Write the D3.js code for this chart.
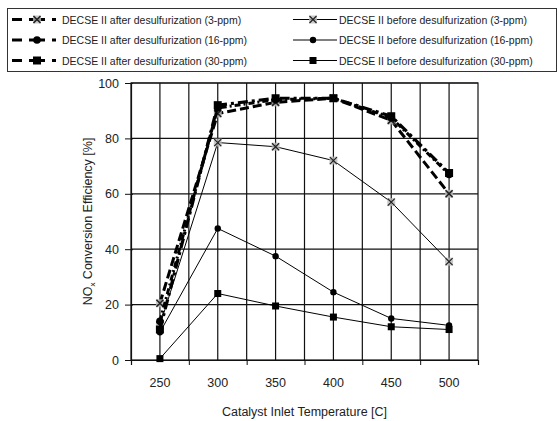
<!DOCTYPE html>
<html>
<head>
<meta charset="utf-8">
<script src="https://cdn.jsdelivr.net/npm/d3@7"></script>
<style>
  body { margin: 0; background: #fff; }
  text { font-family: "Liberation Sans", Arial, sans-serif; fill: #222; }
</style>
</head>
<body>
<div id="chart"></div>
<script>
// temperatures (C)
const temps = [250, 300, 350, 400, 450, 500];

// NOx conversion efficiency [%]
const before3 = [12.5, 78.5, 77, 72, 57, 35.5];
const before16 = [10, 47.5, 37.5, 24.5, 15, 12.5];
const before30 = [0.5, 24, 19.5, 15.5, 12, 11];
const after3 = [20.5, 89, 93, 94.5, 86.5, 60];
const after16 = [14, 91, 94, 94.5, 87.5, 67];
const after30 = [11, 92, 94.5, 94.5, 88, 67.5];

const seriesNames = [
  "DECSE II after desulfurization (3-ppm)",
  "DECSE II after desulfurization (16-ppm)",
  "DECSE II after desulfurization (30-ppm)",
  "DECSE II before desulfurization (3-ppm)",
  "DECSE II before desulfurization (16-ppm)",
  "DECSE II before desulfurization (30-ppm)"
];

const yTicks = [0, 20, 40, 60, 80, 100];

const series = [
  { name: seriesNames[0], values: after3, marker: "x", width: 3, dash: "9,4" },
  { name: seriesNames[1], values: after16, marker: "circle", width: 3, dash: "6,3,2,3" },
  { name: seriesNames[2], values: after30, marker: "square", width: 3.2, dash: "10,4,3,4" },
  { name: seriesNames[3], values: before3, marker: "x", width: 1, dash: null },
  { name: seriesNames[4], values: before16, marker: "circle", width: 1, dash: null },
  { name: seriesNames[5], values: before30, marker: "square", width: 1, dash: null }
];

const W = 559, H = 421;
const margin = { top: 83, right: 81, bottom: 61, left: 131 };
const width = W - margin.left - margin.right;
const height = H - margin.top - margin.bottom;

const svg = d3.select("#chart").append("svg")
  .attr("width", W)
  .attr("height", H);

// Legend box
const legend = svg.append("g");
legend.append("rect")
  .attr("x", 7.5).attr("y", 8.5)
  .attr("width", 549).attr("height", 63)
  .attr("fill", "#fff").attr("stroke", "#333").attr("stroke-width", 1);

const g = svg.append("g")
  .attr("transform", "translate(" + margin.left + "," + margin.top + ")");

const x = d3.scaleLinear().domain([225, 525]).range([0, width]);
const y = d3.scaleLinear().domain([0, 100]).range([height, 0]);

// gridlines
g.append("g")
  .selectAll("line")
  .data(d3.range(250, 525, 25))
  .enter().append("line")
  .attr("x1", d => x(d)).attr("x2", d => x(d))
  .attr("y1", 0).attr("y2", height)
  .attr("stroke", "#111").attr("stroke-width", 1.2);

g.append("g")
  .selectAll("line")
  .data(yTicks.slice(1))
  .enter().append("line")
  .attr("x1", 0).attr("x2", width)
  .attr("y1", d => y(d)).attr("y2", d => y(d))
  .attr("stroke", "#111").attr("stroke-width", 1.2);

// frame
g.append("rect")
  .attr("x", 0).attr("y", 0).attr("width", width).attr("height", height)
  .attr("fill", "none").attr("stroke", "#111").attr("stroke-width", 1.2);

// y axis
const yAxis = g.append("g")
  .call(d3.axisLeft(y).tickValues(yTicks).tickSize(6).tickPadding(6));
yAxis.select(".domain").attr("stroke", "#111").attr("stroke-width", 1.2);
yAxis.selectAll(".tick line").attr("stroke", "#111").attr("x2", -6).attr("x1", 2);
yAxis.selectAll("text").style("font-size", "12.5px").attr("fill", "#333");

// x axis: ticks between categories, labels at temperatures
const xAxis = g.append("g")
  .attr("transform", "translate(0," + height + ")")
  .call(d3.axisBottom(x).tickValues(d3.range(225, 526, 50)).tickSize(5).tickFormat(""));
xAxis.select(".domain").attr("stroke", "#111").attr("stroke-width", 1.2);
xAxis.selectAll(".tick line").attr("stroke", "#111");

g.append("g")
  .selectAll("text")
  .data(temps)
  .enter().append("text")
  .attr("x", d => x(d))
  .attr("y", height + 27)
  .attr("text-anchor", "middle")
  .style("font-size", "12.5px")
  .attr("fill", "#333")
  .text(d => d);

// axis titles
g.append("text")
  .attr("x", width / 2)
  .attr("y", height + 56)
  .attr("text-anchor", "middle")
  .style("font-size", "12.5px")
  .text("Catalyst Inlet Temperature [C]");

const yTitle = g.append("text")
  .attr("transform", "translate(-39," + (height / 2) + ") rotate(-90)")
  .attr("text-anchor", "middle")
  .style("font-size", "12.5px");
yTitle.append("tspan").text("NO");
yTitle.append("tspan").attr("dy", 3).style("font-size", "8px").text("x");
yTitle.append("tspan").attr("dy", -3).text(" Conversion Efficiency [%]");

// marker drawing
function drawMarker(sel, type, heavy) {
  if (type === "x") {
    sel.append("rect")
      .attr("x", -4).attr("y", -4).attr("width", 8).attr("height", 8)
      .attr("fill", "#bbb").attr("opacity", 0.8);
    sel.append("path")
      .attr("d", "M-3.5,-3.5L3.5,3.5M-3.5,3.5L3.5,-3.5")
      .attr("stroke", "#222").attr("stroke-width", heavy ? 1.6 : 1.2);
  } else if (type === "circle") {
    sel.append("circle").attr("r", heavy ? 3.8 : 3.2).attr("fill", "#000");
  } else {
    const s = heavy ? 8 : 7;
    sel.append("rect")
      .attr("x", -s / 2).attr("y", -s / 2).attr("width", s).attr("height", s)
      .attr("fill", "#000");
  }
}

const line = d3.line()
  .x((d, i) => x(temps[i]))
  .y(d => y(d));

// draw before series first, then heavy dashed ones on top
[3, 4, 5, 0, 1, 2].forEach(k => {
  const s = series[k];
  g.append("path")
    .datum(s.values)
    .attr("d", line)
    .attr("fill", "none")
    .attr("stroke", "#000")
    .attr("stroke-width", s.width)
    .attr("stroke-dasharray", s.dash);
  g.selectAll(".m" + k)
    .data(s.values)
    .enter().append("g")
    .attr("class", "m" + k)
    .attr("transform", (d, i) => "translate(" + x(temps[i]) + "," + y(d) + ")")
    .each(function() { drawMarker(d3.select(this), s.marker, s.width > 2); });
});

// legend entries
series.forEach((s, i) => {
  const col = i < 3 ? 0 : 1;
  const row = i % 3;
  const lx = col === 0 ? 12 : 293;
  const ly = 19.5 + row * 20.5;
  const item = legend.append("g").attr("transform", "translate(" + lx + "," + ly + ")");
  if (s.dash) {
    item.append("line").attr("x1", 0).attr("x2", 10).attr("y1", 0).attr("y2", 0)
      .attr("stroke", "#000").attr("stroke-width", 3);
    item.append("line").attr("x1", 17).attr("x2", 33).attr("y1", 0).attr("y2", 0)
      .attr("stroke", "#000").attr("stroke-width", 3);
    item.append("line").attr("x1", 40).attr("x2", 44).attr("y1", 0).attr("y2", 0)
      .attr("stroke", "#000").attr("stroke-width", 3);
  } else {
    item.append("line").attr("x1", 0).attr("x2", 44).attr("y1", 0).attr("y2", 0)
      .attr("stroke", "#000").attr("stroke-width", 1);
  }
  const m = item.append("g").attr("transform", "translate(" + (s.dash ? 25 : 20) + ",0)");
  drawMarker(m, s.marker, !!s.dash);
  item.append("text")
    .attr("x", s.dash ? 50 : 46)
    .attr("y", 4)
    .style("font-size", "10.5px")
    .attr("fill", "#333")
    .text(s.name);
});
</script>
</body>
</html>
